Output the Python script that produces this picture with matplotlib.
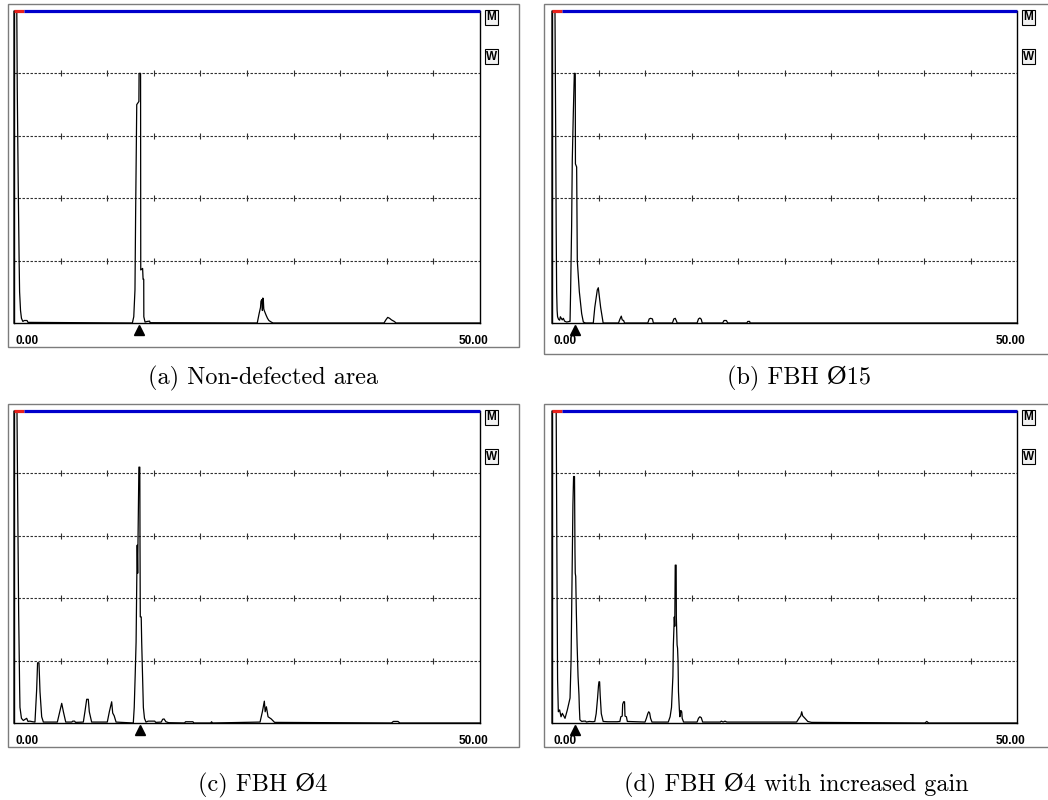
import matplotlib
matplotlib.use("Agg")
import matplotlib.pyplot as plt
import matplotlib.transforms as mtransforms
from matplotlib.patches import Rectangle

W, H = 1048, 800

# --- data (x: 0..50, amplitude in % screen height)
x_labels = ["0.00", "50.00"]
grid_levels = [20, 40, 60, 80]
tick_pos = [0, 5, 10, 15, 20, 25, 30, 35, 40, 45]
red_end = 1.07

captions = ["(a) Non-defected area", "(b) FBH Ø15", "(c) FBH Ø4", "(d) FBH Ø4 with increased gain"]
gate_pos = [13.36, 2.42, 13.5, 2.47]

a_x = [0, 0, 0.3, 0.35, 0.45, 0.55, 0.6, 0.7, 0.8, 0.95, 1.1, 1.4, 1.5,
       12.7, 12.85, 12.98, 13.05, 13.17, 13.4, 13.42, 13.58, 13.6, 13.8, 13.85, 13.92, 13.93, 14.06, 14.3, 14.55, 14.6,
       26.1, 26.3, 26.45, 26.5, 26.6, 26.65, 26.7, 26.75, 26.8, 26.85, 27.05, 27.2, 27.35, 27.6, 27.8,
       39.7, 39.9, 40.1, 40.3, 40.5, 40.8, 41.0, 50]
a_y = [0, 100, 100, 75, 45, 20, 10, 4, 1.5, 0.5, 0.8, 0.8, 0.2,
       0, 2, 10.6, 35, 70, 71, 80, 80, 17, 17.5, 14, 14, 2, 0.3, 0.5, 0.6, 0.1,
       0, 3, 5, 7, 7.5, 4, 8, 7.5, 4.5, 4, 2.5, 1.5, 0.8, 0.3, 0,
       0, 1, 1.8, 1.5, 1.0, 0.5, 0, 0]

b_x = [0, 0, 0.32, 0.4, 0.45, 0.5, 0.55, 0.6, 0.7, 0.82, 0.9, 1.1, 1.22, 1.35, 1.58, 1.87,
       1.94, 2.0, 2.11, 2.18, 2.29, 2.4, 2.5, 2.52, 2.65, 2.66, 2.72, 2.94, 3.19, 3.37, 3.6,
       4.44, 4.6, 4.87, 4.98, 5.05, 5.23, 5.5,
       7.15, 7.3, 7.45, 7.55, 7.7, 7.8,
       10.3, 10.45, 10.6, 10.8, 10.9,
       12.95, 13.1, 13.25, 13.4, 13.45,
       15.6, 15.75, 15.9, 16.05, 16.15,
       18.35, 18.5, 18.75, 18.9,
       20.95, 21.05, 21.25, 21.3, 50]
b_y = [0, 100, 100, 60, 30, 10, 4, 2, 1.2, 0.9, 2, 1.0, 1.5, 0.6, 0.3, 0.5,
       0.5, 10, 31, 52, 67, 80, 80, 51, 50, 46, 20, 10, 3, 0.3, 0,
       0, 5, 10.6, 11.3, 9.5, 5, 0,
       0, 1.2, 2.2, 1.0, 0.8, 0,
       0, 1.3, 1.5, 1.3, 0,
       0, 1.3, 1.5, 0.5, 0,
       0, 1.3, 1.6, 1.2, 0,
       0, 0.8, 0.8, 0,
       0, 0.5, 0.5, 0, 0]

c_x = [0, 0, 0.32, 0.4, 0.5, 0.54, 0.6, 0.64, 0.8, 1.0, 1.2, 1.36, 1.5, 1.7, 2.0,
       2.25, 2.43, 2.53, 2.68, 2.79, 2.97, 3.15,
       4.65, 4.94, 5.12, 5.3, 5.55, 6.2, 6.3, 6.5, 6.6,
       7.44, 7.62, 7.8, 7.97, 8.08, 8.33,
       10.01, 10.23, 10.48, 10.59, 10.75, 10.95,
       12.8, 12.9, 13.0, 13.1, 13.17, 13.22, 13.27, 13.3, 13.4, 13.5, 13.52, 13.55, 13.65, 13.7, 13.88, 14.0, 14.16,
       14.4, 15.1, 15.2, 15.8, 15.95, 16.1, 16.3, 16.6,
       18.3, 18.4, 19.2, 19.3, 21.1, 21.2, 21.3,
       26.4, 26.65, 26.86, 26.95, 27.08, 27.26, 27.6, 27.96,
       40.5, 40.7, 41.2, 41.4, 50]
c_y = [0, 100, 100, 70, 35, 26, 12, 5, 1.5, 0.8, 1.2, 1.5, 0.5, 0.6, 0.4,
       0.3, 10.6, 19.3, 19.3, 10, 2, 0.3,
       0.3, 4, 6.3, 3.6, 0.3, 0.3, 0.6, 0.6, 0.2,
       0.3, 3.8, 7.6, 7.6, 3.6, 0.3,
       0.3, 3.6, 6.8, 3.2, 2.3, 0.3,
       0, 5, 15, 26, 45, 57, 48, 57, 82, 82, 57, 34, 34, 26, 5, 1.5, 0.3,
       0.6, 0.6, 0.2, 0.3, 1.2, 1.3, 0.4, 0.1,
       0, 0.4, 0.4, 0, 0, 0.4, 0,
       0.3, 3.6, 7, 3.6, 5.2, 2, 1.3, 0.2,
       0, 0.5, 0.5, 0, 0]

d_x = [0, 0, 0.45, 0.55, 0.6, 0.68, 0.82, 0.97, 1.11, 1.4, 1.65, 1.94,
       2.05, 2.15, 2.25, 2.32, 2.42, 2.47, 2.5, 2.55, 2.62, 2.7, 2.8, 2.9, 2.94, 3.0, 3.2,
       3.4, 3.6, 3.7, 4.0, 4.4,
       4.6, 4.75, 4.9, 5.0, 5.05, 5.12, 5.18, 5.3, 5.5, 6.0, 7.0,
       7.3, 7.4, 7.55, 7.6, 7.7, 7.8, 7.85, 8.0, 8.1,
       10.0, 10.15, 10.3, 10.4, 10.5, 10.6, 10.75,
       12.5, 12.7, 12.85, 13.0, 13.05, 13.15, 13.2, 13.25, 13.35, 13.37, 13.45, 13.5, 13.55, 13.6, 13.7, 13.75,
       13.8, 13.85, 13.95, 14.0, 14.15,
       15.6, 15.75, 15.9, 16.05, 16.2,
       18.1, 18.2, 18.4, 18.6, 18.8,
       26.3, 26.55, 26.75, 26.85, 26.95, 27.2, 27.5, 27.9,
       40.1, 40.3, 40.5, 50]
d_y = [0, 100, 100, 40, 14, 3.6, 4.2, 2, 3.1, 1.5, 4.2, 8,
       20, 45, 70, 79, 79, 55, 48, 47, 35, 25, 15, 9, 5, 1, 0.5,
       0.6, 0.6, 0.3, 0.5, 0.4,
       0.5, 3, 8, 12, 13.2, 13.2, 9, 3, 0.5, 0.4, 0.4,
       0.5, 2, 2.2, 6, 6.8, 6.8, 2.2, 2, 0.5,
       0.3, 1.5, 3, 3.6, 3.2, 1.5, 0.3,
       0.3, 2, 5, 15, 25, 34, 31, 50.6, 50.6, 34, 25, 24, 20, 10, 4, 2,
       3, 4, 3.6, 1.5, 0.3,
       0.3, 1.5, 2, 1.7, 0.3,
       0.3, 0.6, 0.3, 0.6, 0.3,
       0.3, 1.5, 2.3, 3.6, 2.3, 1.5, 0.5, 0.2,
       0, 0.5, 0, 0]

traces = [(a_x, a_y), (b_x, b_y), (c_x, c_y), (d_x, d_y)]

# pixel layout of each screen: plot left, right, top (100 %), bottom (0 %)
plot_px = [(14, 480, 11, 323), (552, 1017, 11, 323), (14, 480, 411, 723), (552, 1017, 411, 723)]
frame_px = [(8, 519, 4, 347), (544, 1052, 4, 354), (8, 519, 404, 747), (544, 1052, 404, 747)]
caption_px = [(263, 378), (799, 378), (263, 785), (796, 785)]


def fx(px):
    return px / W


def fy(py):
    return 1 - py / H


plt.rcParams['font.family'] = ['Liberation Sans', 'DejaVu Sans']
fig = plt.figure(figsize=(W / 100, H / 100), dpi=100, facecolor='white')

for i in range(4):
    l, r, t, b = plot_px[i]
    ax = fig.add_axes([fx(l), fy(b), fx(r) - fx(l), fy(t) - fy(b)])
    ax.set_xlim(0, 50)
    ax.set_ylim(0, 100)
    ax.set_xticks([])
    ax.set_yticks([])
    ax.patch.set_visible(False)
    ax.spines['top'].set_visible(False)
    for s in ['left', 'right', 'bottom']:
        ax.spines[s].set_linewidth(1.0)
        ax.spines[s].set_color('black')

    for g in grid_levels:
        ax.axhline(g, color='#303030', lw=0.8, linestyle=(0, (2.2, 1.4)), zorder=1)
        ax.plot(tick_pos, [g] * len(tick_pos), linestyle='none', marker='|',
                markersize=4.5, markeredgewidth=0.8, color='#303030', zorder=1)

    ax.plot([0, red_end], [100, 100], color='#e8221c', lw=2.3, solid_capstyle='butt', clip_on=False, zorder=3)
    ax.plot([red_end, 50], [100, 100], color='#0000cc', lw=2.3, solid_capstyle='butt', clip_on=False, zorder=3)

    xs, ys = traces[i]
    ax.plot(xs, ys, color='black', lw=0.9, zorder=2, clip_on=False)

    off = mtransforms.ScaledTranslation(0, -6.5 / 100, fig.dpi_scale_trans)
    ax.plot([gate_pos[i]], [0], marker='^', markersize=6.5, color='black',
            transform=ax.transData + off, clip_on=False)

    # outer grey frame of the screenshot
    fl, fr, ft, fb = frame_px[i]
    fig.patches.append(Rectangle((fx(fl), fy(fb)), fx(fr) - fx(fl), fy(ft) - fy(fb),
                                 transform=fig.transFigure, fill=False, ec='#7c7c7c', lw=1.0))

    ly = b + 18
    fig.text(fx(l + 2), fy(ly), x_labels[0], ha='left', va='center', fontsize=8.5, fontweight='bold')
    fig.text(fx(r + 8), fy(ly), x_labels[1], ha='right', va='center', fontsize=8.5, fontweight='bold')

    for k, lab in enumerate(['M', 'W']):
        fig.text(fx(r + 11.5), fy(t + 6.5 + 39 * k), lab, ha='center', va='center', fontsize=8.5,
                 fontweight='bold',
                 bbox=dict(boxstyle='square,pad=0.1', fc='#f2f2f2', ec='black', lw=0.8))

    cx, cy = caption_px[i]
    fig.text(fx(cx), fy(cy), captions[i], ha='center', va='center', fontsize=17.5,
             family=['cmr10', 'DejaVu Serif'])

fig.savefig('out.png', dpi=100, facecolor='white')
